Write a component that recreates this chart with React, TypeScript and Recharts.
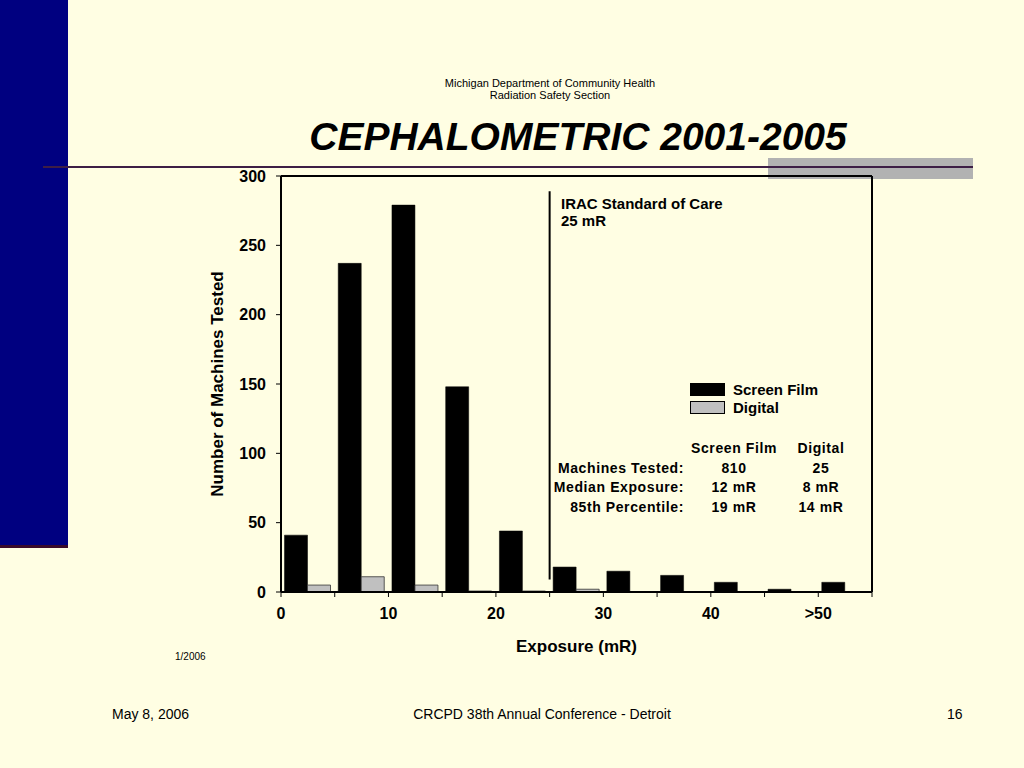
import React from 'react'
import { BarChart, Bar, XAxis, YAxis, ReferenceLine, Legend } from 'recharts'

// exposure bins (5 mR each), counts
const bins = ['0-5', '5-10', '10-15', '15-20', '20-25', '25-30', '30-35', '35-40', '40-45', '45-50', '>50']
const screenFilm = [41, 237, 279, 148, 44, 18, 15, 12, 7, 2, 7]
const digital = [5, 11, 5, 0.7, 0.7, 2, 0, 0, 0, 0, 0]
// label printed at the left edge of each bin
const binEdgeLabels = ['0', '', '10', '', '20', '', '30', '', '40', '', '>50']

const countTicks = [0, 50, 100, 150, 200, 250, 300]
const iracBin = '20-25' // 25 mR = right edge of this bin
const iracStandard = 25

const statHeaders = ['Screen Film', 'Digital']
const statLabels = ['Machines Tested:', 'Median Exposure:', '85th Percentile:']
const filmStats = ['810', '12 mR', '19 mR']
const digitalStats = ['25', '8 mR', '14 mR']

const data = bins.map((bin, i) => ({ bin, film: screenFilm[i], digital: digital[i] }))

const FONT = '"Liberation Sans", Arial, Helvetica, sans-serif'
const CREAM = '#FFFEE3'
const PLOT_W = 591

const BinEdgeTick = (props: any) => {
  const { x, y, payload } = props
  const i = payload.index
  const half = PLOT_W / bins.length / 2
  const left = x - half
  return (
    <g>
      <line x1={left} y1={y} x2={left} y2={y + 5} stroke="#000" strokeWidth={1} />
      {i === bins.length - 1 && <line x1={x + half} y1={y} x2={x + half} y2={y + 5} stroke="#000" strokeWidth={1} />}
      {binEdgeLabels[i] && (
        <text x={left} y={y + 16} dy="0.71em" textAnchor="middle" fontFamily={FONT} fontWeight="bold" fontSize={16} fill="#000">
          {binEdgeLabels[i]}
        </text>
      )}
    </g>
  )
}

const LegendBox = () => (
  <div style={{ fontFamily: FONT, fontWeight: 'bold', fontSize: 15, color: '#000' }}>
    {[
      { name: 'Screen Film', fill: '#000' },
      { name: 'Digital', fill: '#C0C0C0' },
    ].map((item) => (
      <div key={item.name} style={{ display: 'flex', alignItems: 'center', height: 18 }}>
        <div style={{ width: 33, height: 11, background: item.fill, border: '0.5px solid #000', marginRight: 8 }} />
        <span>{item.name}</span>
      </div>
    ))}
  </div>
)

export default function App() {
  const abs = (s: React.CSSProperties): React.CSSProperties => ({ position: 'absolute', ...s })

  return (
    <div style={abs({ left: 0, top: 0, width: 1024, height: 768, background: CREAM, overflow: 'hidden', fontFamily: FONT })}>
      {/* slide decoration */}
      <div style={abs({ left: 0, top: 0, width: 68, height: 545, background: '#000080' })} />
      <div style={abs({ left: 0, top: 545, width: 68, height: 3, background: '#3A0A2A' })} />
      <div style={abs({ left: 768, top: 158, width: 205, height: 21, background: '#B2B2B2' })} />
      <div style={abs({ left: 43, top: 166, width: 930, height: 2, background: '#3D1E45' })} />

      <div style={abs({ left: 350, top: 77, width: 400, textAlign: 'center', fontSize: 11, lineHeight: '12px', color: '#000' })}>
        Michigan Department of Community Health
        <br />
        Radiation Safety Section
      </div>
      <div style={abs({ left: 278, top: 112, width: 600, textAlign: 'center', fontSize: 39, fontWeight: 'bold', fontStyle: 'italic', lineHeight: '50px', color: '#000' })}>
        CEPHALOMETRIC 2001-2005
      </div>

      <div style={abs({ left: 0, top: 0 })}>
        <BarChart
          width={1024}
          height={768}
          data={data}
          margin={{ top: 176, right: 152, bottom: 68, left: 153 }}
          barCategoryGap={3.5}
          barGap={0}
        >
          <XAxis
            dataKey="bin"
            interval={0}
            tick={<BinEdgeTick />}
            tickLine={false}
            tickSize={0}
            tickMargin={0}
            height={108}
            axisLine={{ stroke: '#000', strokeWidth: 2 }}
            label={{ value: 'Exposure (mR)', position: 'center', fontFamily: FONT, fontWeight: 'bold', fontSize: 17, fill: '#000' }}
          />
          <YAxis
            domain={[0, 300]}
            ticks={countTicks}
            interval={0}
            width={128}
            tickSize={5}
            tickMargin={10}
            axisLine={{ stroke: '#000', strokeWidth: 2 }}
            tickLine={{ stroke: '#000', strokeWidth: 1 }}
            tick={{ fill: '#000', fontSize: 16, fontWeight: 'bold', fontFamily: FONT }}
            label={{ value: 'Number of Machines Tested', angle: -90, position: 'center', fontFamily: FONT, fontWeight: 'bold', fontSize: 17, fill: '#000' }}
          />
          <ReferenceLine y={300} stroke="#000" strokeWidth={2} />
          <ReferenceLine x=">50" position="end" stroke="#000" strokeWidth={2} />
          <ReferenceLine
            segment={[{ x: iracBin, y: 9 }, { x: iracBin, y: 289 }]}
            position="end"
            stroke="#000"
            strokeWidth={2}
          />
          <Bar dataKey="film" name="Screen Film" fill="#000" stroke="#000" strokeWidth={0.5} isAnimationActive={false} />
          <Bar dataKey="digital" name="Digital" fill="#C0C0C0" stroke="#333" strokeWidth={0.8} isAnimationActive={false} />
          <Legend
            layout="vertical"
            align="center"
            verticalAlign="middle"
            content={<LegendBox />}
            wrapperStyle={{ left: 690, top: 380, width: 160, height: 40 }}
          />
        </BarChart>
      </div>

      {/* annotations inside the plot */}
      <div style={abs({ left: 561, top: 195, fontSize: 15, fontWeight: 'bold', lineHeight: '17px', color: '#000' })}>
        IRAC Standard of Care
        <br />
        {iracStandard} mR
      </div>

      <div
        style={abs({
          left: 540,
          top: 439,
          display: 'grid',
          gridTemplateColumns: '146px 96px 78px',
          fontSize: 14,
          fontWeight: 'bold',
          letterSpacing: 0.6,
          lineHeight: '19.7px',
          color: '#000',
        })}
      >
        <div />
        <div style={{ textAlign: 'center' }}>{statHeaders[0]}</div>
        <div style={{ textAlign: 'center' }}>{statHeaders[1]}</div>
        {statLabels.map((label, i) => (
          <React.Fragment key={label}>
            <div style={{ textAlign: 'right', paddingRight: 2 }}>{label}</div>
            <div style={{ textAlign: 'center' }}>{filmStats[i]}</div>
            <div style={{ textAlign: 'center' }}>{digitalStats[i]}</div>
          </React.Fragment>
        ))}
      </div>

      <div style={abs({ left: 175, top: 651, fontSize: 10, color: '#000' })}>1/2006</div>
      <div style={abs({ left: 112, top: 706, fontSize: 14, color: '#000' })}>May 8, 2006</div>
      <div style={abs({ left: 292, top: 706, width: 500, textAlign: 'center', fontSize: 14, color: '#000' })}>
        CRCPD 38th Annual Conference - Detroit
      </div>
      <div style={abs({ left: 947, top: 706, fontSize: 14, color: '#000' })}>16</div>
    </div>
  )
}
